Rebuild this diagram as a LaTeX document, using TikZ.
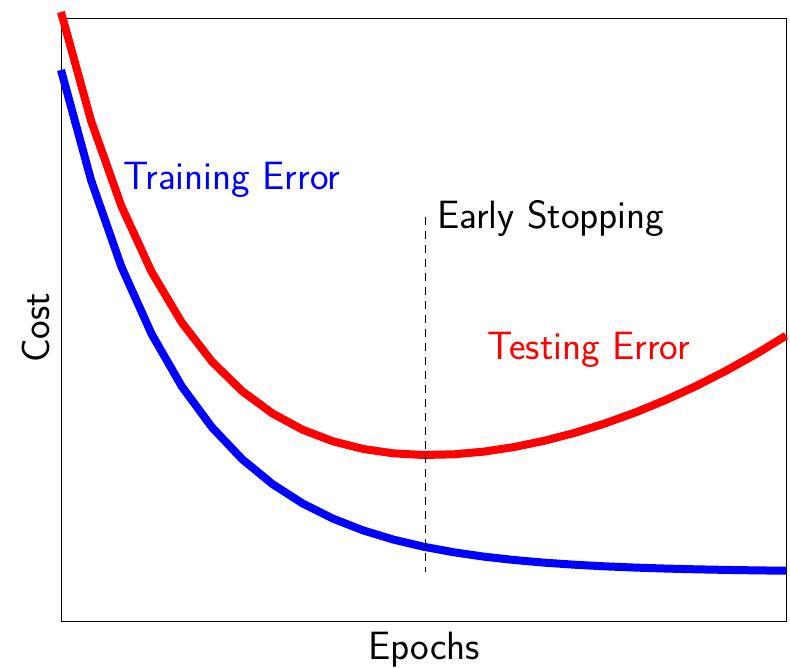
\documentclass[tikz,border=0pt]{standalone}
\usepackage{fontspec}
\usepackage{tikz}
\usetikzlibrary{positioning}

\begin{document}
\begin{tikzpicture}[x=1pt, y=-1pt,
    every node/.style={font=\sffamily\fontsize{39.5}{44}\selectfont, inner sep=0pt},
    curve/.style={line width=8pt, line join=round}]
      \useasboundingbox (0,0) rectangle (790,668);
      \draw[line width=1pt] (61,19) rectangle (786,621);
      % training and testing cost
      \draw[curve, blue] plot[domain=0:7.25, samples=25]
        ({61+100*\x}, {572-502*exp(-0.824*\x)});
      \draw[curve, red] plot[domain=0:7.25, samples=25]
        ({61+100*\x}, {514-502*exp(-0.824*\x)-4.26*\x-0.3835*\x*\x*\x});
      \coordinate (stoptop) at (425,217);
      \coordinate (stopbot) at (425,572);
      \draw[line width=1pt, dash pattern=on 8pt off 6pt] (stoptop) -- (stopbot);
      \node[anchor=west, text=blue] (train) at (123,180) {Training Error};
      \node[anchor=west, text=red] (test) at (487,350) {Testing Error};
      \node[anchor=west] (stop) at (437,219) {Early Stopping};
      \node[rotate=90] (cost) at (36,328) {Cost};
      \node (epochs) at (424,650) {Epochs};
    \end{tikzpicture}
\end{document}
